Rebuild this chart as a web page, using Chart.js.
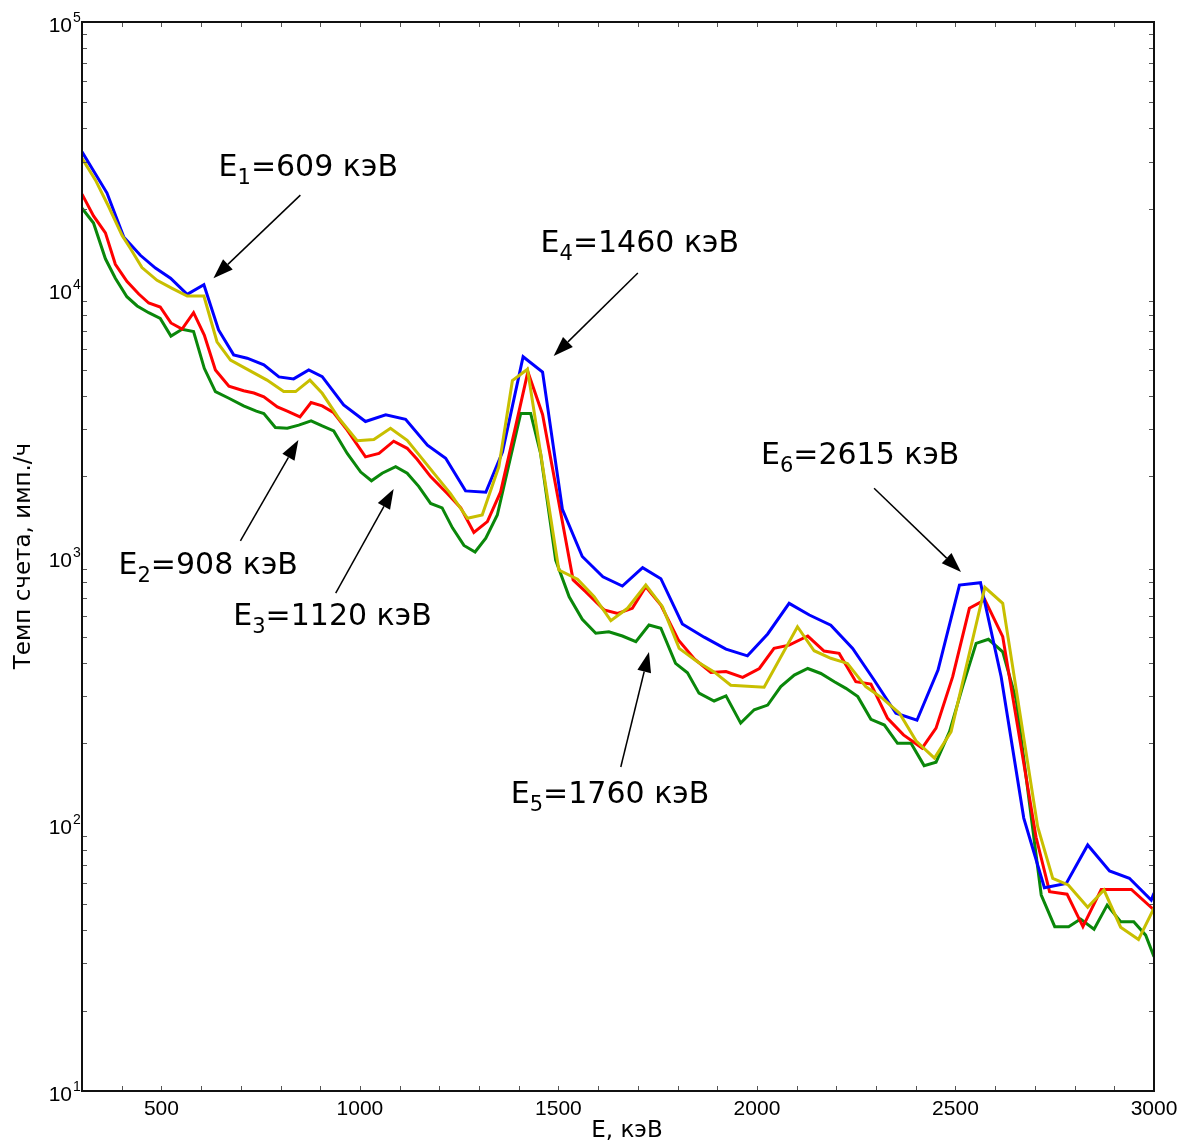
<!DOCTYPE html>
<html>
<head>
<meta charset="utf-8">
<script src="https://cdn.jsdelivr.net/npm/chart.js@4.4.1/dist/chart.umd.min.js"></script>
<style>
  body{margin:0;background:#fff;}
</style>
</head>
<body>
<canvas id="spectrum" width="1192" height="1144"></canvas>
<script>
// energies (keV) and count rates (imp./h)
const blueE = [300,363,405,447,485,523,565,607,644,682,716,758,796,833,871,905,959,1014,1065,1115,1170,1216,1266,1317,1359,1411,1460,1510,1560,1612,1661,1712,1758,1812,1867,1922,1976,2027,2081,2132,2186,2241,2295,2350,2403,2456,2510,2563,2615,2672,2724,2779,2833,2888,2938,2993,3000];
const blueRate = [32700,22900,15700,13400,12000,11000,9570,10400,7040,5680,5520,5210,4700,4620,4990,4710,3690,3200,3390,3260,2610,2330,1760,1740,2460,5590,4900,1500,1000,840,775,908,826,559,499,450,425,513,668,604,553,453,345,259,244,376,782,798,355,105,57.6,59.8,83.3,66.6,62.5,51.8,55];

const redE = [300,329,359,384,413,443,468,497,524,552,581,608,636,670,707,733,758,792,817,849,877,905,934,968,1014,1048,1085,1119,1144,1178,1220,1254,1287,1321,1354,1392,1423,1460,1537,1569,1615,1649,1686,1720,1758,1802,1843,1884,1922,1964,2006,2043,2081,2128,2169,2207,2249,2287,2329,2369,2416,2451,2493,2535,2574,2619,2703,2737,2781,2821,2867,2943,3000];
const redRate = [22700,18800,16250,12400,10700,9600,8880,8580,7480,7100,8170,6740,4990,4340,4170,4090,3960,3630,3500,3330,3770,3660,3450,2970,2360,2430,2700,2540,2310,1990,1720,1520,1230,1350,1740,3060,4910,3400,817,737,631,612,640,771,658,487,413,368,371,353,381,453,466,504,443,434,340,333,248,215,192,228,355,640,688,501,89,55.7,54.5,41.2,56.8,56.8,47.6];

const yellowE = [300,334,367,401,422,451,489,527,565,607,640,674,712,766,808,838,874,905,947,993,1035,1077,1119,1153,1186,1228,1271,1308,1350,1384,1422,1501,1548,1590,1632,1674,1720,1762,1804,1850,1892,1934,2018,2102,2144,2186,2228,2274,2317,2359,2401,2447,2489,2531,2574,2619,2707,2745,2784,2833,2874,2916,2961,3000];
const yellowRate = [30900,25600,20400,15900,14200,12050,10800,10080,9430,9430,6360,5430,5060,4570,4140,4140,4570,4080,3290,2710,2740,3020,2720,2360,2050,1720,1390,1430,2170,4550,5020,890,822,707,575,640,782,649,453,404,370,330,324,546,444,416,398,326,294,259,204,176,221,410,767,668,97.5,62.5,59.0,48.7,56.5,41.0,36.9,48.3];

const greenE = [300,329,359,384,413,439,468,497,524,552,581,608,636,670,707,739,758,787,817,846,877,905,934,968,1002,1029,1056,1090,1119,1148,1178,1207,1233,1262,1290,1317,1346,1375,1405,1430,1455,1493,1527,1560,1594,1627,1661,1695,1728,1758,1795,1825,1854,1892,1922,1959,1993,2027,2060,2094,2128,2161,2195,2224,2254,2287,2321,2354,2388,2421,2451,2485,2518,2552,2583,2619,2653,2716,2750,2785,2815,2849,2882,2916,2949,2979,3000];
const greenRate = [20100,17700,13000,11000,9380,8660,8170,7780,6680,7080,6940,5060,4140,3910,3660,3500,3430,3040,3020,3100,3220,3080,2950,2430,2070,1920,2050,2170,2050,1830,1580,1520,1280,1100,1040,1170,1430,2200,3430,3430,2430,970,707,582,516,523,504,480,554,539,398,367,308,288,301,238,267,278,326,360,381,365,340,321,299,246,234,200,200,165,170,221,326,473,490,440,291,54.1,41.2,41.2,44.0,40.3,49.6,43.0,43.0,38.3,31.8];

const xTickLabels = [500,1000,1500,2000,2500,3000];
const yTickPowers = [1,2,3,4,5];

// peak labels: text anchor and arrow tail/tip in data units
const peakNotes = [
    {sub:'1', rest:'=609 кэВ',  at:[644,29200],  from:[850,22500],  to:[631,11000]},
    {sub:'4', rest:'=1460 кэВ', at:[1455,15150], from:[1700,11500], to:[1488,5630]},
    {sub:'6', rest:'=2615 кэВ', at:[2010,2440],  from:[2295,1800],  to:[2514,875]},
    {sub:'2', rest:'=908 кэВ',  at:[392,946],    from:[699,1143],   to:[845,2730]},
    {sub:'3', rest:'=1120 кэВ', at:[681,609],    from:[939,730],    to:[1085,1790]},
    {sub:'5', rest:'=1760 кэВ', at:[1380,131],   from:[1657,163],   to:[1728,439]},
];

function pairs(es, rates){
    return es.map((e, i)=>({x:e, y:rates[i]}));
}

function series(es, rates, colour){
    return {
        data: pairs(es, rates),
        borderColor: colour,
        borderWidth: 3,
        pointRadius: 0,
        tension: 0,
        fill: false
    };
}

const decor = {
    id: 'decor',
    beforeDraw(chart){
        let ctx = chart.ctx;
        ctx.save();
        ctx.fillStyle = '#fff';
        ctx.fillRect(0, 0, chart.width, chart.height);
        ctx.restore();
    },
    afterDraw(chart){
        let ctx = chart.ctx;
        let a = chart.chartArea;
        let x = chart.scales.x;
        let y = chart.scales.y;
        ctx.save();

        // small inward ticks
        ctx.strokeStyle = '#555';
        ctx.lineWidth = 1;
        ctx.beginPath();
        for(let v = 400; v < 3000; v += 100){
            let px = Math.round(x.getPixelForValue(v)) + 0.5;
            ctx.moveTo(px, a.bottom); ctx.lineTo(px, a.bottom - 5);
            ctx.moveTo(px, a.top); ctx.lineTo(px, a.top + 5);
        }
        for(let p = 1; p < 5; p++){
            for(let k = 2; k < 10; k++){
                let py = Math.round(y.getPixelForValue(k * 10 ** p)) + 0.5;
                ctx.moveTo(a.left, py); ctx.lineTo(a.left + 5, py);
                ctx.moveTo(a.right, py); ctx.lineTo(a.right - 5, py);
            }
        }
        ctx.stroke();

        // frame
        ctx.strokeStyle = '#111';
        ctx.lineWidth = 2;
        ctx.strokeRect(a.left, a.top, a.right - a.left, a.bottom - a.top);

        // tick labels
        ctx.fillStyle = '#000';
        ctx.font = '21px "Liberation Sans", Arial, sans-serif';
        ctx.textAlign = 'center';
        ctx.textBaseline = 'alphabetic';
        xTickLabels.forEach((v)=>{
            ctx.fillText(String(v), x.getPixelForValue(v), a.bottom + 24);
        });
        yTickPowers.forEach((p)=>{
            let py = y.getPixelForValue(10 ** p);
            ctx.font = '21px "Liberation Sans", Arial, sans-serif';
            ctx.textAlign = 'right';
            ctx.fillText('10', a.left - 10, py + 10);
            ctx.font = '14px "Liberation Sans", Arial, sans-serif';
            ctx.textAlign = 'left';
            ctx.fillText(String(p), a.left - 9, py);
        });

        // axis titles
        ctx.font = '23px "DejaVu Sans", sans-serif';
        ctx.textAlign = 'center';
        ctx.textBaseline = 'middle';
        ctx.fillText('E, кэВ', 627, a.bottom + 40);
        ctx.save();
        ctx.translate(24, 556);
        ctx.rotate(-Math.PI / 2);
        ctx.fillText('Темп счета, имп./ч', 0, 0);
        ctx.restore();

        // peak labels and arrows
        peakNotes.forEach((n)=>{
            let tx = x.getPixelForValue(n.at[0]);
            let ty = y.getPixelForValue(n.at[1]);
            ctx.textAlign = 'left';
            ctx.textBaseline = 'alphabetic';
            ctx.font = '30px "DejaVu Sans", sans-serif';
            ctx.fillText('E', tx, ty + 11);
            let w = ctx.measureText('E').width;
            ctx.font = '21px "DejaVu Sans", sans-serif';
            ctx.fillText(n.sub, tx + w, ty + 19);
            w += ctx.measureText(n.sub).width;
            ctx.font = '30px "DejaVu Sans", sans-serif';
            ctx.fillText(n.rest, tx + w, ty + 11);

            let x0 = x.getPixelForValue(n.from[0]);
            let y0 = y.getPixelForValue(n.from[1]);
            let x1 = x.getPixelForValue(n.to[0]);
            let y1 = y.getPixelForValue(n.to[1]);
            let ang = Math.atan2(y1 - y0, x1 - x0);
            let len = 20, half = 7;
            let bx = x1 - len * Math.cos(ang);
            let by = y1 - len * Math.sin(ang);
            ctx.strokeStyle = '#000';
            ctx.lineWidth = 1.5;
            ctx.beginPath();
            ctx.moveTo(x0, y0);
            ctx.lineTo(bx, by);
            ctx.stroke();
            ctx.beginPath();
            ctx.moveTo(x1, y1);
            ctx.lineTo(bx + half * Math.sin(ang), by - half * Math.cos(ang));
            ctx.lineTo(bx - half * Math.sin(ang), by + half * Math.cos(ang));
            ctx.closePath();
            ctx.fillStyle = '#000';
            ctx.fill();
        });
        ctx.restore();
    }
};

new Chart(document.getElementById('spectrum'), {
    type: 'line',
    data: {
        datasets: [
            series(yellowE, yellowRate, '#c8bf00'),
            series(blueE, blueRate, '#0000ff'),
            series(redE, redRate, '#ff0000'),
            series(greenE, greenRate, '#0a870a'),
        ]
    },
    options: {
        responsive: false,
        animation: false,
        layout: {padding: {left: 82, right: 38, top: 22, bottom: 53}},
        plugins: {legend: {display: false}, tooltip: {enabled: false}},
        scales: {
            x: {type: 'linear', min: 300, max: 3000, display: false},
            y: {type: 'logarithmic', min: 10, max: 100000, display: false}
        }
    },
    plugins: [decor]
});
</script>
</body>
</html>
